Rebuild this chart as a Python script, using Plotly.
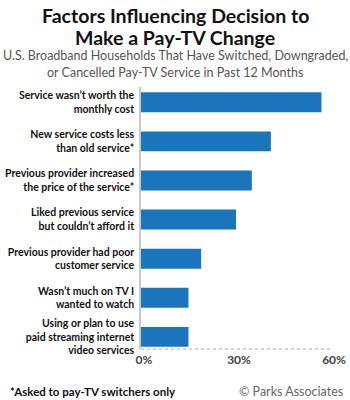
import plotly.graph_objects as go

categories = [
    "Service wasn’t worth the<br>monthly cost",
    "New service costs less<br>than old service*",
    "Previous provider increased<br>the price of the service*",
    "Liked previous service<br>but couldn’t afford it",
    "Previous provider had poor<br>customer service",
    "Wasn’t much on TV I<br>wanted to watch",
    "Using or plan to use<br>paid streaming internet<br>video services",
]
values = [57, 41, 35, 30, 19, 15, 15]
x_tickvals = [0, 30, 60]
x_ticktext = ["0%", "30%", "60%"]

positions = list(range(len(categories)))

# plot area in pixels
L, R, T, B = 141, 331, 87, 349
def px(x):
    return (x - L) / (R - L)
def py(y):
    return (B - y) / (B - T)

fig = go.Figure()
fig.add_trace(go.Bar(
    x=values, y=positions, orientation="h",
    marker=dict(color="#1a75bc", line=dict(width=0)),
    width=0.51, hoverinfo="skip",
))

label_font = "Lato, Roboto, sans-serif"

fig.update_layout(
    template="none",
    width=350, height=400,
    margin=dict(l=L, r=350 - R, t=T, b=400 - B, autoexpand=False),
    paper_bgcolor="white", plot_bgcolor="white",
    showlegend=False,
    xaxis=dict(
        range=[0, 60], tickvals=x_tickvals, ticktext=x_ticktext,
        showgrid=False, zeroline=False, showline=False, automargin=False,
        ticks="", ticklabelshift=3, ticklabelstandoff=2,
        tickfont=dict(family=label_font, size=12, color="#444444", weight="bold"),
        fixedrange=True,
    ),
    yaxis=dict(
        range=[6.31, -0.39], tickvals=positions, ticktext=categories,
        showgrid=False, zeroline=False, showline=True, automargin=False,
        linecolor="#c8c8c8", linewidth=1.5, ticks="",
        ticklabelstandoff=3,
        tickfont=dict(family=label_font, size=10.5, color="#111111", weight="bold"),
        fixedrange=True,
    ),
)

# dotted bottom baseline
fig.add_shape(type="line", xref="paper", yref="paper", x0=0, x1=1, y0=0, y1=0,
              line=dict(color="#aaaaaa", width=1, dash="dot"))

def ann(text, x, y, size, color, xanchor="center", bold=False):
    fig.add_annotation(text=text, xref="paper", yref="paper", x=px(x), y=py(y),
                       xanchor=xanchor, yanchor="middle", showarrow=False,
                       font=dict(family="Lato, Roboto, sans-serif", size=size, color=color,
                                 weight="bold" if bold else "normal"))

ann("Factors Influencing Decision to", 175, 15, 19.5, "#111111", bold=True)
ann("Make a Pay-TV Change", 175, 37, 19.5, "#111111", bold=True)
ann("U.S. Broadband Households That Have Switched, Downgraded,", 175, 55, 12.5, "#555555")
ann("or Cancelled Pay-TV Service in Past 12 Months", 175, 72, 12.5, "#555555")
ann("*Asked to pay-TV switchers only", 8, 391, 11.5, "#111111", xanchor="left", bold=True)
ann("© Parks Associates", 345, 391, 12.5, "#666666", xanchor="right")

fig.write_html("out.html")
